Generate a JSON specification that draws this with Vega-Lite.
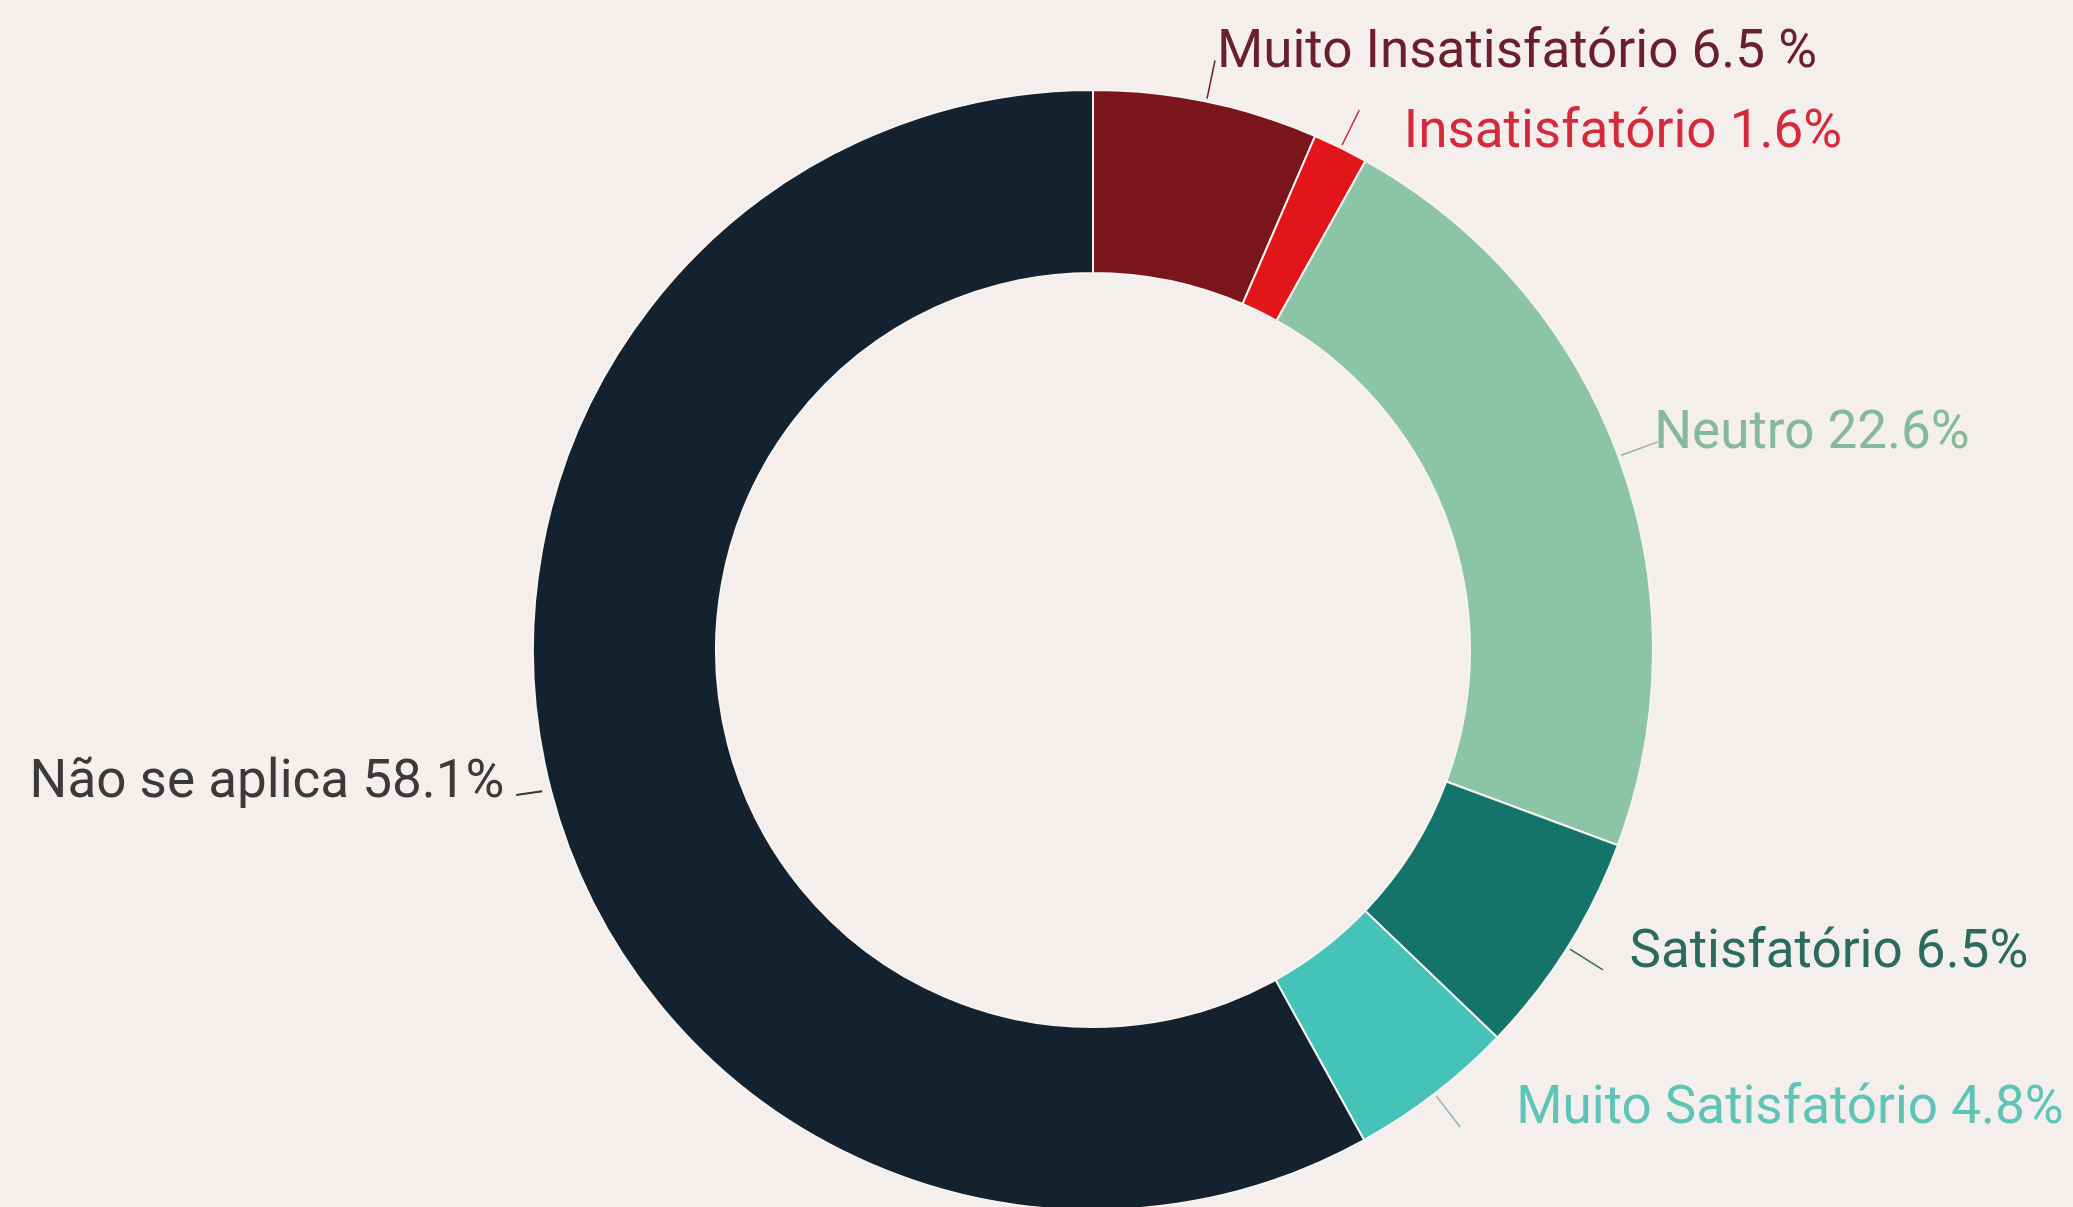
{
  "$schema": "https://vega.github.io/schema/vega-lite/v6.json",
  "width": 1960,
  "height": 1114,
  "autosize": "none",
  "padding": {"left": 113, "top": 93, "right": 0, "bottom": 0},
  "background": "#f4efed",
  "config": {"view": {"stroke": null}},
  "data": {
    "values": [
      {"rank": 1, "cat": "Muito Insatisfatório", "pct": 6.5, "label": "Muito Insatisfatório 6.5 %"},
      {"rank": 2, "cat": "Insatisfatório", "pct": 1.6, "label": "Insatisfatório 1.6%"},
      {"rank": 3, "cat": "Neutro", "pct": 22.6, "label": "Neutro 22.6%"},
      {"rank": 4, "cat": "Satisfatório", "pct": 6.5, "label": "Satisfatório 6.5%"},
      {"rank": 5, "cat": "Muito Satisfatório", "pct": 4.8, "label": "Muito Satisfatório 4.8%"},
      {"rank": 6, "cat": "Não se aplica", "pct": 58.1, "label": "Não se aplica 58.1%"}
    ]
  },
  "encoding": {
    "theta": {"field": "pct", "type": "quantitative", "stack": true},
    "order": {"field": "rank", "type": "quantitative"}
  },
  "layer": [
    {
      "mark": {"type": "arc", "radius": 560, "radius2": 377, "stroke": "#f7f3f1", "strokeWidth": 2},
      "encoding": {
        "color": {
          "field": "cat", "type": "nominal", "legend": null,
          "scale": {
            "domain": ["Muito Insatisfatório", "Insatisfatório", "Neutro", "Satisfatório", "Muito Satisfatório", "Não se aplica"],
            "range": ["#7a161b", "#e2151b", "#8cc4a7", "#15746a", "#46c3b8", "#13222e"]
          }
        }
      }
    },
    {
      "mark": {"type": "arc", "radius": 602, "radius2": 563, "padAngle": 3.2, "filled": false, "strokeWidth": 1.5},
      "encoding": {
        "stroke": {
          "field": "cat", "type": "nominal", "legend": null,
          "scale": {
            "domain": ["Muito Insatisfatório", "Insatisfatório", "Neutro", "Satisfatório", "Muito Satisfatório", "Não se aplica"],
            "range": ["#6b1f2b", "#d42a3c", "#8ab79d", "#2b6b5f", "#7fb9b0", "#3a3a3a"]
          }
        },
        "strokeOpacity": {"condition": {"test": "datum.rank == 6", "value": 0}, "value": 1}
      }
    },
    {
      "mark": {"type": "text", "radius": 582, "align": "center", "baseline": "middle", "font": "Roboto", "fontSize": 40, "fontWeight": 300, "angle": 352, "fill": "#3a3a3a"},
      "encoding": {
        "text": {"condition": {"test": "datum.rank == 6", "value": "—"}, "value": ""}
      }
    },
    {
      "mark": {"type": "text", "radius": 612, "align": "left", "baseline": "middle", "font": "Roboto", "fontSize": 53},
      "encoding": {
        "text": {"condition": {"test": "datum.rank == 1", "field": "label"}, "value": ""},
        "fill": {
          "field": "cat", "type": "nominal", "legend": null,
          "scale": {
            "domain": ["Muito Insatisfatório", "Insatisfatório", "Neutro", "Satisfatório", "Muito Satisfatório", "Não se aplica"],
            "range": ["#6b1f2b", "#d42a3c", "#86b89c", "#2b6b5f", "#5ec4b8", "#3a3a3a"]
          }
        }
      }
    },
    {
      "mark": {"type": "text", "radius": 612, "align": "left", "baseline": "middle", "font": "Roboto", "fontSize": 53, "dx": 40, "dy": 30},
      "encoding": {
        "text": {"condition": {"test": "datum.rank == 2", "field": "label"}, "value": ""},
        "fill": {"field": "cat", "type": "nominal", "legend": null}
      }
    },
    {
      "mark": {"type": "text", "radius": 612, "align": "left", "baseline": "middle", "font": "Roboto", "fontSize": 53, "dx": -13, "dy": -6},
      "encoding": {
        "text": {"condition": {"test": "datum.rank == 3", "field": "label"}, "value": ""},
        "fill": {"field": "cat", "type": "nominal", "legend": null}
      }
    },
    {
      "mark": {"type": "text", "radius": 612, "align": "left", "baseline": "middle", "font": "Roboto", "fontSize": 53, "dx": 18, "dy": -24},
      "encoding": {
        "text": {"condition": {"test": "datum.rank == 4", "field": "label"}, "value": ""},
        "fill": {"field": "cat", "type": "nominal", "legend": null}
      }
    },
    {
      "mark": {"type": "text", "radius": 612, "align": "left", "baseline": "middle", "font": "Roboto", "fontSize": 53, "dx": 50, "dy": -28},
      "encoding": {
        "text": {"condition": {"test": "datum.rank == 5", "field": "label"}, "value": ""},
        "fill": {"field": "cat", "type": "nominal", "legend": null}
      }
    },
    {
      "mark": {"type": "text", "radius": 612, "align": "right", "baseline": "middle", "font": "Roboto", "fontSize": 53, "dx": 4, "dy": -22},
      "encoding": {
        "text": {"condition": {"test": "datum.rank == 6", "field": "label"}, "value": ""},
        "fill": {"field": "cat", "type": "nominal", "legend": null}
      }
    }
  ]
}
